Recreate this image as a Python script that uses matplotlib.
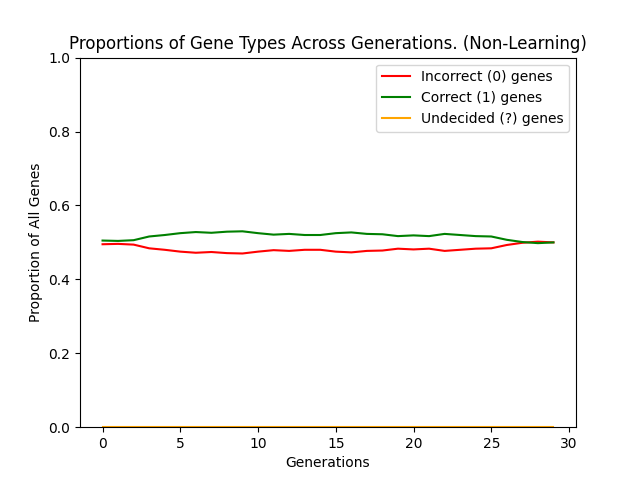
import matplotlib
matplotlib.use("Agg")
import matplotlib.pyplot as plt

generations = list(range(30))
incorrect = [0.495, 0.496, 0.494, 0.484, 0.480, 0.475, 0.472, 0.474, 0.471, 0.470,
             0.475, 0.479, 0.477, 0.480, 0.480, 0.475, 0.473, 0.477, 0.478, 0.483,
             0.481, 0.483, 0.477, 0.480, 0.483, 0.484, 0.493, 0.499, 0.502, 0.500]
correct = [1 - v for v in incorrect]
undecided = [0.0] * 30

fig, ax = plt.subplots(figsize=(6.4, 4.8), dpi=100)
ax.plot(generations, incorrect, color='red', label='Incorrect (0) genes')
ax.plot(generations, correct, color='green', label='Correct (1) genes')
ax.plot(generations, undecided, color='orange', label='Undecided (?) genes')
ax.set_ylim(0, 1)
ax.set_xlabel('Generations')
ax.set_ylabel('Proportion of All Genes')
ax.set_title('Proportions of Gene Types Across Generations. (Non-Learning)')
ax.legend(loc='upper right')
fig.savefig('out.png')
